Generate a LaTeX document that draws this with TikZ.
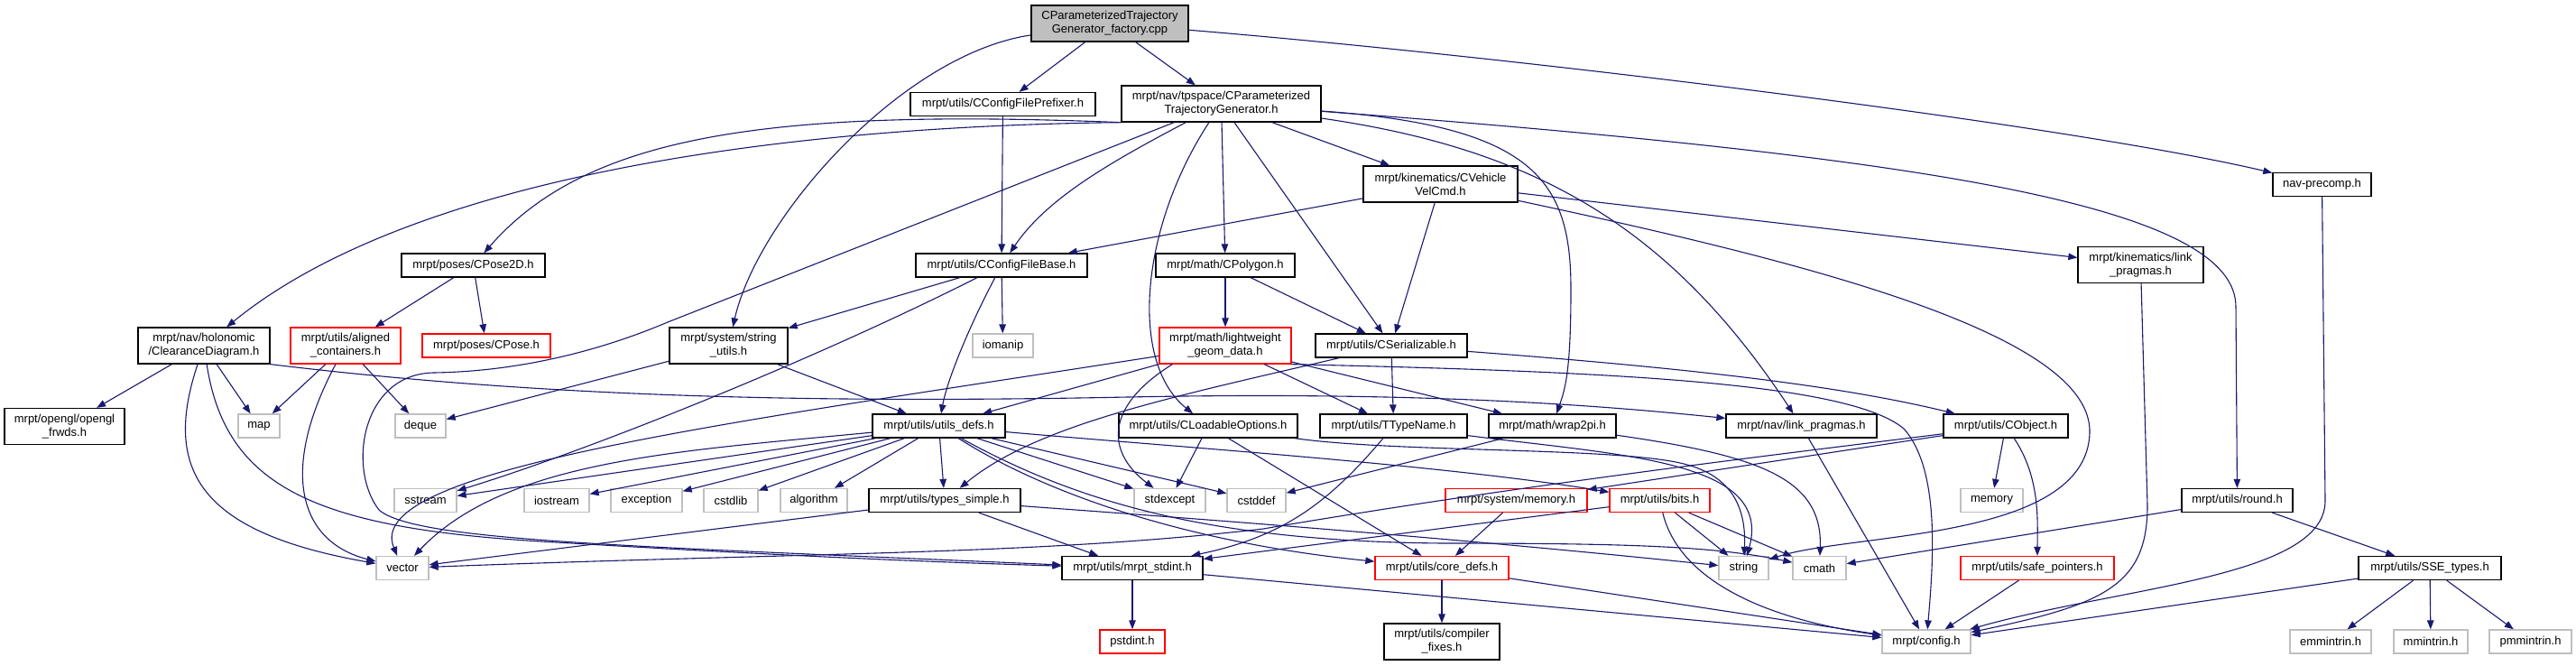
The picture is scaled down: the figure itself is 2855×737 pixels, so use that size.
\documentclass[tikz,border=0pt]{standalone}
\usepackage{fontspec}
\setmainfont{Liberation Sans}
\usetikzlibrary{arrows.meta,calc}
\definecolor{edgec}{RGB}{25,25,112}
\definecolor{grayb}{RGB}{191,191,191}
\begin{document}
\begin{tikzpicture}[x=1pt,y=-1pt,
 box/.style={draw=black,line width=1.3pt,fill=white,inner sep=0pt,minimum height=26pt,align=center,font=\fontsize{13}{15}\selectfont},
 two/.style={minimum height=40pt},
 sysh/.style={box,draw=grayb},
 redb/.style={box,draw=red},
 e/.style={draw=edgec,line width=1.1pt,-{Triangle[length=10pt,width=7.5pt]}},
]
\fill[white] (0,0) rectangle (2855,737);
\useasboundingbox (0,0) rectangle (2855,737);
% nodes
\node[box,two,fill=grayb,minimum width=174pt] (root) at (1230,26) {CParameterizedTrajectory\\Generator\_factory.cpp};
\node[box,minimum width=205pt] (pref) at (1111.5,115.5) {mrpt/utils/CConfigFilePrefixer.h};
\node[box,two,minimum width=221pt] (cptg) at (1353.5,115) {mrpt/nav/tpspace/CParameterized\\TrajectoryGenerator.h};
\node[box,minimum width=109pt] (navp) at (2573.5,204.5) {nav-precomp.h};
\node[box,two,minimum width=171pt] (vel) at (1596.5,204) {mrpt/kinematics/CVehicle\\VelCmd.h};
\node[box,two,minimum width=139pt] (klink) at (2372.5,293.5) {mrpt/kinematics/link\\\_pragmas.h};
\node[box,minimum width=159pt] (pose2d) at (524.5,294) {mrpt/poses/CPose2D.h};
\node[box,minimum width=190pt] (cfb) at (1110,294) {mrpt/utils/CConfigFileBase.h};
\node[box,minimum width=154pt] (poly) at (1358,294) {mrpt/math/CPolygon.h};
\node[box,two,minimum width=146pt] (clear) at (226,383) {mrpt/nav/holonomic\\/ClearanceDiagram.h};
\node[redb,two,minimum width=122pt] (align) at (383,383) {mrpt/utils/aligned\\\_containers.h};
\node[redb,minimum width=142pt] (cpose) at (539,383) {mrpt/poses/CPose.h};
\node[box,two,minimum width=131pt] (sutils) at (807.5,383) {mrpt/system/string\\\_utils.h};
\node[sysh,minimum width=67pt] (ioman) at (1111.5,383) {iomanip};
\node[redb,two,minimum width=146pt] (light) at (1358,383) {mrpt/math/lightweight\\\_geom\_data.h};
\node[box,minimum width=168pt] (cser) at (1542,383) {mrpt/utils/CSerializable.h};
\node[box,two,minimum width=133pt] (ogl) at (71.5,472.5) {mrpt/opengl/opengl\\\_frwds.h};
\node[sysh,minimum width=46pt] (map) at (287,472) {map};
\node[sysh,minimum width=56pt] (deque) at (466,472) {deque};
\node[box,minimum width=147pt] (udefs) at (1040.5,472) {mrpt/utils/utils\_defs.h};
\node[box,minimum width=198pt] (cload) at (1339,472) {mrpt/utils/CLoadableOptions.h};
\node[box,minimum width=163pt] (ttype) at (1544.5,472) {mrpt/utils/TTypeName.h};
\node[box,minimum width=141pt] (wrap) at (1720.5,472) {mrpt/math/wrap2pi.h};
\node[box,minimum width=167pt] (nlink) at (1996.5,472) {mrpt/nav/link\_pragmas.h};
\node[box,minimum width=138pt] (cobj) at (2223,472) {mrpt/utils/CObject.h};
\node[sysh,minimum width=69pt] (sstream) at (471.5,554.5) {sstream};
\node[sysh,minimum width=72pt] (iostream) at (617,554.5) {iostream};
\node[sysh,minimum width=79pt] (exception) at (716.5,554.5) {exception};
\node[sysh,minimum width=60pt] (cstdlib) at (810,554.5) {cstdlib};
\node[sysh,minimum width=74pt] (algorithm) at (902,554.5) {algorithm};
\node[box,minimum width=168pt] (tsimple) at (1047,554.5) {mrpt/utils/types\_simple.h};
\node[sysh,minimum width=79pt] (stdexcept) at (1296.5,554.5) {stdexcept};
\node[sysh,minimum width=65pt] (cstddef) at (1392.5,554.5) {cstddef};
\node[redb,minimum width=157pt] (smem) at (1680.5,554.5) {mrpt/system/memory.h};
\node[redb,minimum width=111pt] (bits) at (1839.5,554.5) {mrpt/utils/bits.h};
\node[sysh,minimum width=69pt] (memory) at (2207.5,554.5) {memory};
\node[box,minimum width=123pt] (round) at (2479.5,554.5) {mrpt/utils/round.h};
\node[sysh,minimum width=58pt] (vector) at (446,629.5) {vector};
\node[box,minimum width=156pt] (stdint) at (1255,629.5) {mrpt/utils/mrpt\_stdint.h};
\node[redb,minimum width=148pt] (core) at (1598,629.5) {mrpt/utils/core\_defs.h};
\node[sysh,minimum width=55pt] (string) at (1932.5,629.5) {string};
\node[sysh,minimum width=59pt] (cmath) at (2016.5,629.5) {cmath};
\node[redb,minimum width=170pt] (safe) at (2258,629.5) {mrpt/utils/safe\_pointers.h};
\node[box,minimum width=158pt] (sse) at (2693,629.5) {mrpt/utils/SSE\_types.h};
\node[redb,minimum width=72pt] (pstd) at (1255,711) {pstdint.h};
\node[box,two,minimum width=128pt] (cfix) at (1598,711) {mrpt/utils/compiler\\\_fixes.h};
\node[sysh,minimum width=98pt] (config) at (2135,711) {mrpt/config.h};
\node[sysh,minimum width=90pt] (emm) at (2583,711) {emmintrin.h};
\node[sysh,minimum width=82pt] (mmi) at (2694,711) {mmintrin.h};
\node[sysh,minimum width=91pt] (pmm) at (2804.5,711) {pmmintrin.h};
% edges: root
\draw[e] (root) -- (pref);
\draw[e] (root) -- (cptg);
\draw[e] (root) .. controls (1700,65) and (2300,140) .. (navp);
\draw[e] (root) .. controls (1000,60) and (840,240) .. (sutils);
\draw[e] (pref) -- (cfb);
% CPTG
\draw[e] (cptg.south west) .. controls (850,140) and (450,200) .. (clear);
\draw[e] (cptg.south west) .. controls (850,120) and (650,150) .. (pose2d);
\draw[e] (cptg) -- (740,357) .. controls (650,395) and (560,412) .. (480,413) .. controls (400,415) and (385,520) .. (420,565) .. controls (460,600) and (700,605) .. (stdint);
\draw[e] (cptg) .. controls (1230,180) and (1160,220) .. (cfb);
\draw[e] (cptg) .. controls (1265,250) and (1250,400) .. (cload);
\draw[e] (cptg) -- (poly);
\draw[e] (cptg) -- (cser);
\draw[e] (cptg) -- (vel);
\draw[e] (cptg) .. controls (2150,175) and (2478,230) .. (2478,340) -- (round);
\draw[e] (cptg) .. controls (1700,140) and (1741,200) .. (1741,320) .. controls (1741,410) and (1735,430) .. (wrap);
\draw[e] (cptg) .. controls (1700,165) and (1850,250) .. (nlink);
% VelCmd
\draw[e] (vel) -- (cfb);
\draw[e] (vel) -- (cser);
\draw[e] (vel) -- (klink);
\draw[e] (vel) .. controls (2000,290) and (2320,370) .. (2316,480) .. controls (2312,600) and (2050,590) .. (string);
% CConfigFileBase
\draw[e] (cfb) -- (sutils);
\draw[e] (cfb) .. controls (900,400) and (650,500) .. (sstream);
\draw[e] (cfb) .. controls (1075,360) and (1050,420) .. (udefs);
\draw[e] (cfb) -- (ioman);
% CPose2D
\draw[e] (pose2d) -- (align);
\draw[e] (pose2d) -- (cpose);
% ClearanceDiagram
\draw[e] (clear) -- (ogl);
\draw[e] (clear) -- (map);
\draw[e] (clear) .. controls (180,520) and (220,590) .. (vector);
\draw[e] (clear) .. controls (250,540) and (350,585) .. (600,600) .. controls (800,612) and (1000,622) .. (stdint);
\draw[e] (clear.south east) .. controls (600,440) and (900,447) .. (1250,440) .. controls (1600,433) and (1800,452) .. (nlink);
% aligned containers
\draw[e] (align) -- (map);
\draw[e] (align) .. controls (310,520) and (330,600) .. (vector);
\draw[e] (align) -- (deque);
% string utils
\draw[e] (sutils) -- (deque);
\draw[e] (sutils) -- (udefs);
% lightweight
\draw[e] (light) -- (udefs);
\draw[e] (light) .. controls (800,470) and (400,520) .. (vector);
\draw[e] ($(light.south west)+(15,0)$) .. controls (1225,450) and (1225,500) .. (stdexcept);
\draw[e] (light) -- (ttype);
\draw[e] (light) -- (wrap);
\draw[e] (light.south east) .. controls (1800,412) and (2050,425) .. (2110,475) .. controls (2150,520) and (2143,620) .. (config);
% CSerializable
\draw[e] (cser) -- (ttype);
\draw[e] (cser) .. controls (1900,410) and (2050,430) .. (cobj);
\draw[e] (cser) .. controls (1300,440) and (1150,470) .. (tsimple);
% CPolygon
\draw[e] (poly) -- (light);
\draw[e] (poly) -- (cser);
% utils_defs
\draw[e] (udefs) -- (sstream);
\draw[e] (udefs) -- (iostream);
\draw[e] (udefs) -- (exception);
\draw[e] (udefs) -- (cstdlib);
\draw[e] (udefs) -- (algorithm);
\draw[e] (udefs) -- (tsimple);
\draw[e] (udefs) .. controls (750,500) and (560,510) .. (vector);
\draw[e] (udefs) -- (stdexcept);
\draw[e] (udefs) -- (cstddef);
\draw[e] (udefs) .. controls (1300,495) and (1600,515) .. (bits);
\draw[e] (udefs) .. controls (1180,560) and (1350,605) .. (core);
\draw[e] (udefs) .. controls (1200,560) and (1350,600) .. (1600,602) .. controls (1800,602) and (1900,605) .. (cmath);
% types_simple
\draw[e] (tsimple) -- (vector);
\draw[e] (tsimple) -- (stdint);
\draw[e] (tsimple) .. controls (1400,580) and (1650,600) .. (string);
% CLoadableOptions
\draw[e] (cload) -- (stdexcept);
\draw[e] (cload) -- (core);
\draw[e] (cload) .. controls (1550,502) and (1800,495) .. (1870,515) .. controls (1925,530) and (1935,570) .. (string);
% TTypeName
\draw[e] (ttype) .. controls (1800,505) and (1965,510) .. (string);
\draw[e] (ttype) .. controls (1470,560) and (1420,595) .. (stdint);
% wrap2pi
\draw[e] (wrap) -- (cstddef);
\draw[e] (wrap) .. controls (1950,505) and (2020,530) .. (cmath);
% memory.h, bits
\draw[e] (smem) -- (core);
\draw[e] (bits) -- (stdint);
\draw[e] (bits) -- (string);
\draw[e] (bits) -- (cmath);
\draw[e] (bits) .. controls (1860,640) and (1950,685) .. (config);
% CObject
\draw[e] (cobj) -- (memory);
\draw[e] (cobj) .. controls (2262,530) and (2258,580) .. (safe);
\draw[e] (cobj) -- (smem);
\draw[e] (cobj) .. controls (2000,500) and (1700,535) .. (1400,586) .. controls (1150,615) and (900,612) .. (vector);
% round
\draw[e] (round) -- (cmath);
\draw[e] (round) -- (sse);
% to config etc.
\draw[e] (safe) -- (config);
\draw[e] (nlink) -- (config);
\draw[e] (klink) -- (2380,560) .. controls (2380,650) and (2330,670) .. (config);
\draw[e] (navp) -- (2577,555) .. controls (2577,640) and (2350,650) .. (config);
\draw[e] (sse) -- (config);
\draw[e] (sse) -- (emm);
\draw[e] (sse) -- (mmi);
\draw[e] (sse) -- (pmm);
\draw[e] (core) -- (cfix);
\draw[e] (core) -- (config);
\draw[e] (stdint) -- (pstd);
\draw[e] (stdint) -- (config);
\end{tikzpicture}
\end{document}
